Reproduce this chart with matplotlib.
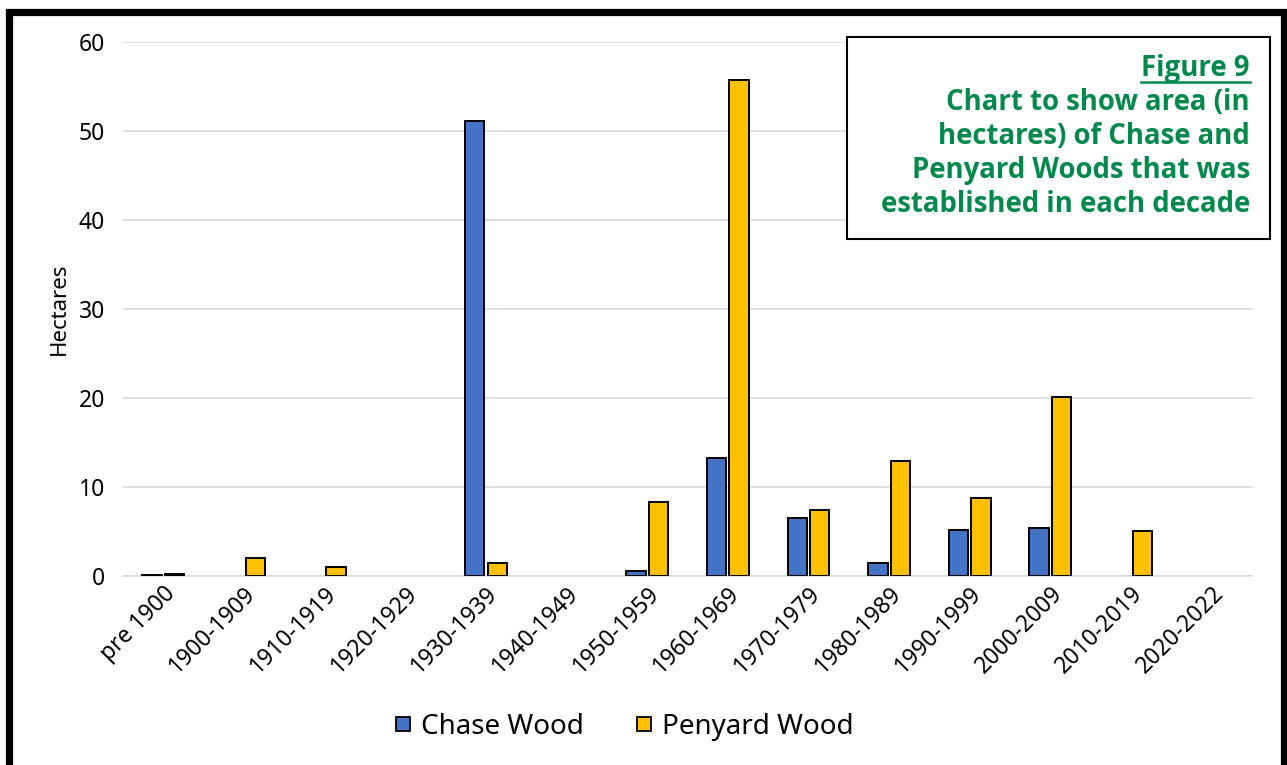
import matplotlib
matplotlib.use("Agg")
import matplotlib.pyplot as plt
from matplotlib.patches import Rectangle
from matplotlib.lines import Line2D
import numpy as np

plt.rcParams['font.family'] = ['Noto Sans', 'DejaVu Sans']

decades = ['pre 1900', '1900-1909', '1910-1919', '1920-1929', '1930-1939',
           '1940-1949', '1950-1959', '1960-1969', '1970-1979', '1980-1989',
           '1990-1999', '2000-2009', '2010-2019', '2020-2022']
chase = [0.1, 0, 0, 0, 51.1, 0, 0.6, 13.3, 6.5, 1.45, 5.2, 5.35, 0, 0]
penyard = [0.25, 2.0, 1.0, 0, 1.45, 0, 8.3, 55.7, 7.45, 12.9, 8.8, 20.1, 5.05, 0]

BLUE = '#4472C4'
GOLD = '#FFC000'
GREEN = '#00894A'

fig = plt.figure(figsize=(12.87, 7.65), dpi=100)
ax = fig.add_axes([0.0956, 0.2471, 0.8772, 0.698])

x = np.arange(len(decades))
w = 0.24
off = 0.14
handles = []
# zero-height bars are left out so no black stub shows on the axis
for xs, vals, col, lab in [(x - off, chase, BLUE, 'Chase Wood'),
                           (x + off, penyard, GOLD, 'Penyard Wood')]:
    vals = np.array(vals, dtype=float)
    keep = vals > 0
    ax.bar(xs[keep], vals[keep], width=w, color=col, edgecolor='black',
           linewidth=1.4, zorder=3)
    handles.append(Line2D([], [], linestyle='none', marker='s', markersize=10,
                          markerfacecolor=col, markeredgecolor='black',
                          markeredgewidth=1.3, label=lab))

ax.set_xlim(-0.5, len(decades) - 0.5)
ax.set_ylim(0, 60)
ax.set_yticks(range(0, 61, 10))
ax.yaxis.grid(True, color='#D9D9D9', linewidth=1.2, zorder=0)
ax.set_axisbelow(True)
for s in ['top', 'right', 'left']:
    ax.spines[s].set_visible(False)
ax.spines['bottom'].set_color('#D9D9D9')
ax.spines['bottom'].set_linewidth(1.2)
ax.tick_params(axis='both', length=0, labelsize=16.5)
ax.tick_params(axis='y', pad=13)
ax.set_xticks(x)
ax.set_xticklabels(decades, rotation=45, ha='right', rotation_mode='anchor')
ax.tick_params(axis='x', pad=4)
ax.set_ylabel('Hectares', fontsize=16, labelpad=6)

fig.legend(handles=handles, loc='center', bbox_to_anchor=(0.4856, 0.0497),
           ncol=2, frameon=False, fontsize=20, handlelength=0.5,
           handletextpad=0.4, columnspacing=1.9)

# title box in the top right
fig.add_artist(Rectangle((0.658, 0.688), 0.329, 0.263, transform=fig.transFigure,
                         facecolor='white', edgecolor='black', linewidth=1.5,
                         zorder=5))
tx = 0.9712
title_font = dict(fontsize=19.8, fontweight='bold', color=GREEN, zorder=6,
                  family=['Open Sans', 'DejaVu Sans'])
title_lines = ['Chart to show area (in', 'hectares) of Chase and',
               'Penyard Woods that was', 'established in each decade']
fig9 = fig.text(tx, 1 - 76 / 765, 'Figure 9', ha='right', va='baseline',
                **title_font)
for i, line in enumerate(title_lines):
    fig.text(tx, 1 - (110 + 34 * i) / 765, line, ha='right', va='baseline',
             **title_font)

# underline "Figure 9"
fig.canvas.draw()
bb = fig9.get_window_extent().transformed(fig.transFigure.inverted())
uy = 1 - 81.5 / 765
fig.add_artist(Line2D([bb.x0, bb.x1], [uy, uy], transform=fig.transFigure,
                      color=GREEN, linewidth=1.8, zorder=6))

# heavy outer frame, open past the bottom edge
fig.add_artist(Rectangle((0.007, -0.05), 0.9905, 1.0337, transform=fig.transFigure,
                         facecolor='none', edgecolor='black', linewidth=5.2,
                         zorder=10, clip_on=False))

fig.savefig('out.png', dpi=100)
